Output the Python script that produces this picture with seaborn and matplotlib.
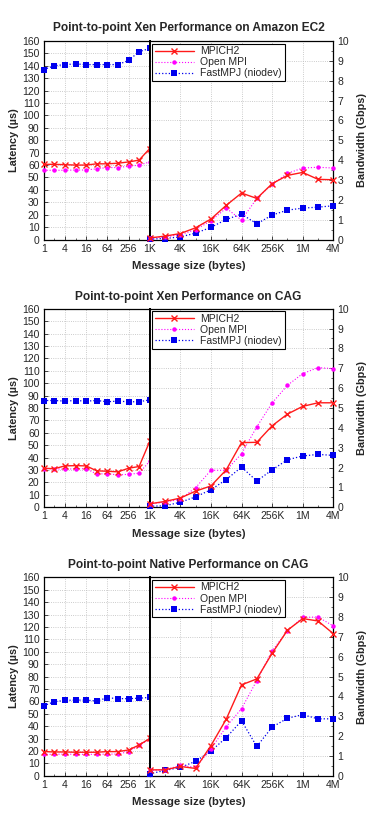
import numpy as np
import pandas as pd
import matplotlib
matplotlib.use("Agg")
import matplotlib.pyplot as plt
from matplotlib.ticker import FixedLocator, NullFormatter
import seaborn as sns

# message sizes (bytes)
lat_sizes = [1, 2, 4, 8, 16, 32, 64, 128, 256, 512, 1024]
bw_sizes = [1024 * 2 ** i for i in range(13)]  # 1K .. 4M

titles = [
    "Point-to-point Xen Performance on Amazon EC2",
    "Point-to-point Xen Performance on CAG",
    "Point-to-point Native Performance on CAG",
]

# latency (us) for 1 B .. 1 KB
ec2_lat_mpich = [60.6, 60.6, 60.3, 60.0, 60.0, 61.0, 61.0, 61.5, 62.5, 64.0, 73.3]
ec2_lat_ompi = [55.8, 55.8, 55.8, 56.0, 56.0, 57.0, 58.0, 58.0, 59.0, 60.0, 62.5]
ec2_lat_fmpj = [137.0, 140.0, 141.0, 141.5, 141.0, 141.0, 141.0, 141.0, 144.3, 151.4, 154.0]

xcag_lat_mpich = [31.4, 31.0, 33.3, 33.5, 33.3, 29.3, 29.0, 28.5, 31.4, 32.8, 53.0]
xcag_lat_ompi = [31.0, 31.0, 30.6, 31.0, 31.0, 26.8, 27.0, 26.0, 26.5, 27.4, 37.1]
xcag_lat_fmpj = [86.0, 86.0, 85.5, 86.0, 85.5, 86.0, 85.0, 85.5, 85.0, 85.0, 86.5]

ncag_lat_mpich = [19.5, 19.2, 19.2, 19.0, 19.0, 19.0, 19.5, 19.5, 20.8, 24.8, 30.1]
ncag_lat_ompi = [17.3, 17.3, 17.5, 17.3, 17.3, 17.3, 17.5, 17.5, 19.5, 24.5, 29.5]
ncag_lat_fmpj = [56.5, 59.7, 60.8, 61.0, 61.0, 60.3, 62.9, 62.2, 62.2, 62.5, 63.2]

# bandwidth (Gbps) for 1 KB .. 4 MB
ec2_bw_mpich = [0.08, 0.17, 0.30, 0.59, 1.03, 1.72, 2.34, 2.07, 2.81, 3.23, 3.38, 3.03, 3.01]
ec2_bw_ompi = [0.07, 0.13, 0.24, 0.50, 0.94, 1.58, 0.98, 2.07, 2.78, 3.33, 3.60, 3.64, 3.60]
ec2_bw_fmpj = [0.02, 0.05, 0.13, 0.32, 0.61, 1.01, 1.28, 0.79, 1.23, 1.48, 1.58, 1.63, 1.70]

xcag_bw_mpich = [0.17, 0.29, 0.46, 0.81, 1.07, 1.88, 3.25, 3.27, 4.10, 4.69, 5.08, 5.26, 5.26]
xcag_bw_ompi = [0.17, 0.25, 0.40, 0.98, 1.86, 1.86, 2.69, 4.05, 5.25, 6.14, 6.73, 7.03, 6.98]
xcag_bw_fmpj = [0.05, 0.07, 0.25, 0.52, 0.88, 1.39, 2.02, 1.32, 1.88, 2.39, 2.58, 2.66, 2.61]

ncag_bw_mpich = [0.30, 0.30, 0.47, 0.37, 1.52, 2.85, 4.58, 4.88, 6.17, 7.33, 7.92, 7.80, 7.16]
ncag_bw_ompi = [0.27, 0.30, 0.52, 0.43, 1.35, 2.47, 3.38, 4.80, 6.29, 7.31, 7.98, 8.00, 7.55]
ncag_bw_fmpj = [0.10, 0.27, 0.42, 0.73, 1.25, 1.92, 2.77, 1.48, 2.45, 2.90, 3.08, 2.87, 2.87]

panels = [
    (ec2_lat_mpich, ec2_lat_ompi, ec2_lat_fmpj, ec2_bw_mpich, ec2_bw_ompi, ec2_bw_fmpj),
    (xcag_lat_mpich, xcag_lat_ompi, xcag_lat_fmpj, xcag_bw_mpich, xcag_bw_ompi, xcag_bw_fmpj),
    (ncag_lat_mpich, ncag_lat_ompi, ncag_lat_fmpj, ncag_bw_mpich, ncag_bw_ompi, ncag_bw_fmpj),
]

sns.set_style("ticks")
plt.rcParams["font.family"] = ["Liberation Sans", "DejaVu Sans"]
plt.rcParams["font.size"] = 7

W, H = 372, 814
fig = plt.figure(figsize=(W / 100, H / 100), dpi=100)

styles = [
    dict(color="#ff1a1a", marker="x", markersize=4.5, linestyle="-", linewidth=1.0,
         markeredgewidth=1.0, markeredgecolor="#ff1a1a", label="MPICH2"),
    dict(color="#ff00ff", marker="o", markersize=3.2, linestyle=":", linewidth=0.8,
         markeredgewidth=0, label="Open MPI"),
    dict(color="#0000ee", marker="s", markersize=4.3, linestyle=":", linewidth=0.9,
         markeredgewidth=0, label="FastMPJ (niodev)"),
]

x0, x1, x2 = 43.7, 149.7, 333.3
tops = [41.0, 308.7, 577.3]
ah = 198.5
title_y = [28, 297, 565]
xlab_y = [266, 534, 802]

grid_kw = dict(color="#bbbbbb", linestyle=":", linewidth=0.6)

for p, vals in enumerate(panels):
    top = tops[p]
    bot = 1 - (top + ah) / H
    axl = fig.add_axes([x0 / W, bot, (x1 - x0) / W, ah / H])
    axr = fig.add_axes([x1 / W, bot, (x2 - x1) / W, ah / H])

    lat = vals[:3]
    bw = vals[3:]
    for i in range(3):
        st = dict(styles[i])
        st.pop("label")
        sns.lineplot(x=lat_sizes, y=lat[i], ax=axl, clip_on=False, zorder=3 - i + 2, **st)
        sns.lineplot(x=bw_sizes, y=bw[i], ax=axr, clip_on=False, zorder=3 - i + 2, **styles[i])

    for ax in (axl, axr):
        ax.set_xscale("log", base=2)
        ax.grid(True, which="major", **grid_kw)
        ax.tick_params(direction="in", length=3, width=0.6, labelsize=7.5, pad=3)
        ax.tick_params(which="minor", direction="in", length=1.8, width=0.5)
        for s in ax.spines.values():
            s.set_linewidth(0.9)
            s.set_color("black")
        ax.set_xlabel("")
        ax.set_ylabel("")

    axl.set_xlim(1, 1024)
    axl.set_ylim(0, 160)
    axl.xaxis.set_major_locator(FixedLocator([1, 4, 16, 64, 256]))
    axl.xaxis.set_minor_locator(FixedLocator([2, 8, 32, 128, 512]))
    axl.xaxis.set_minor_formatter(NullFormatter())
    axl.set_xticklabels(["1", "4", "16", "64", "256"])
    axl.set_yticks(np.arange(0, 161, 10))
    axl.spines["right"].set_linewidth(1.4)
    axl.set_ylabel("Latency (\u00b5s)", fontweight="bold", fontsize=7.8, labelpad=2)

    axr.set_xlim(1024, 4 * 1024 ** 2)
    axr.set_ylim(0, 10)
    axr.xaxis.set_major_locator(FixedLocator([1024 * 4 ** k for k in range(7)]))
    axr.xaxis.set_minor_locator(FixedLocator([2048 * 4 ** k for k in range(6)]))
    axr.xaxis.set_minor_formatter(NullFormatter())
    axr.set_xticklabels(["1K", "4K", "16K", "64K", "256K", "1M", "4M"])
    axr.set_yticks(range(0, 11))
    axr.set_yticks(np.arange(0.5, 10, 1), minor=True)
    axr.yaxis.tick_right()
    axr.yaxis.set_label_position("right")
    axr.tick_params(axis="y", which="both", left=False, right=True)
    axr.spines["left"].set_linewidth(1.4)
    axr.set_ylabel("Bandwidth (Gbps)", fontweight="bold", fontsize=7.8, labelpad=6)

    leg = axr.legend(loc="upper left", bbox_to_anchor=(0.012, 0.987), fontsize=7.5,
                     frameon=True, fancybox=False, handlelength=3.8, borderpad=0.25,
                     labelspacing=0.1, handletextpad=0.6, borderaxespad=0.0)
    leg.get_frame().set_edgecolor("black")
    leg.get_frame().set_linewidth(0.8)
    leg.get_frame().set_alpha(1)
    leg.set_zorder(10)

    cx = (x0 + x2) / 2 / W
    fig.text(cx, 1 - title_y[p] / H, titles[p], ha="center", va="center",
             fontweight="bold", fontsize=8.6)
    fig.text(cx, 1 - xlab_y[p] / H, "Message size (bytes)", ha="center", va="center",
             fontweight="bold", fontsize=8.2)

fig.savefig("out.png", dpi=100)
